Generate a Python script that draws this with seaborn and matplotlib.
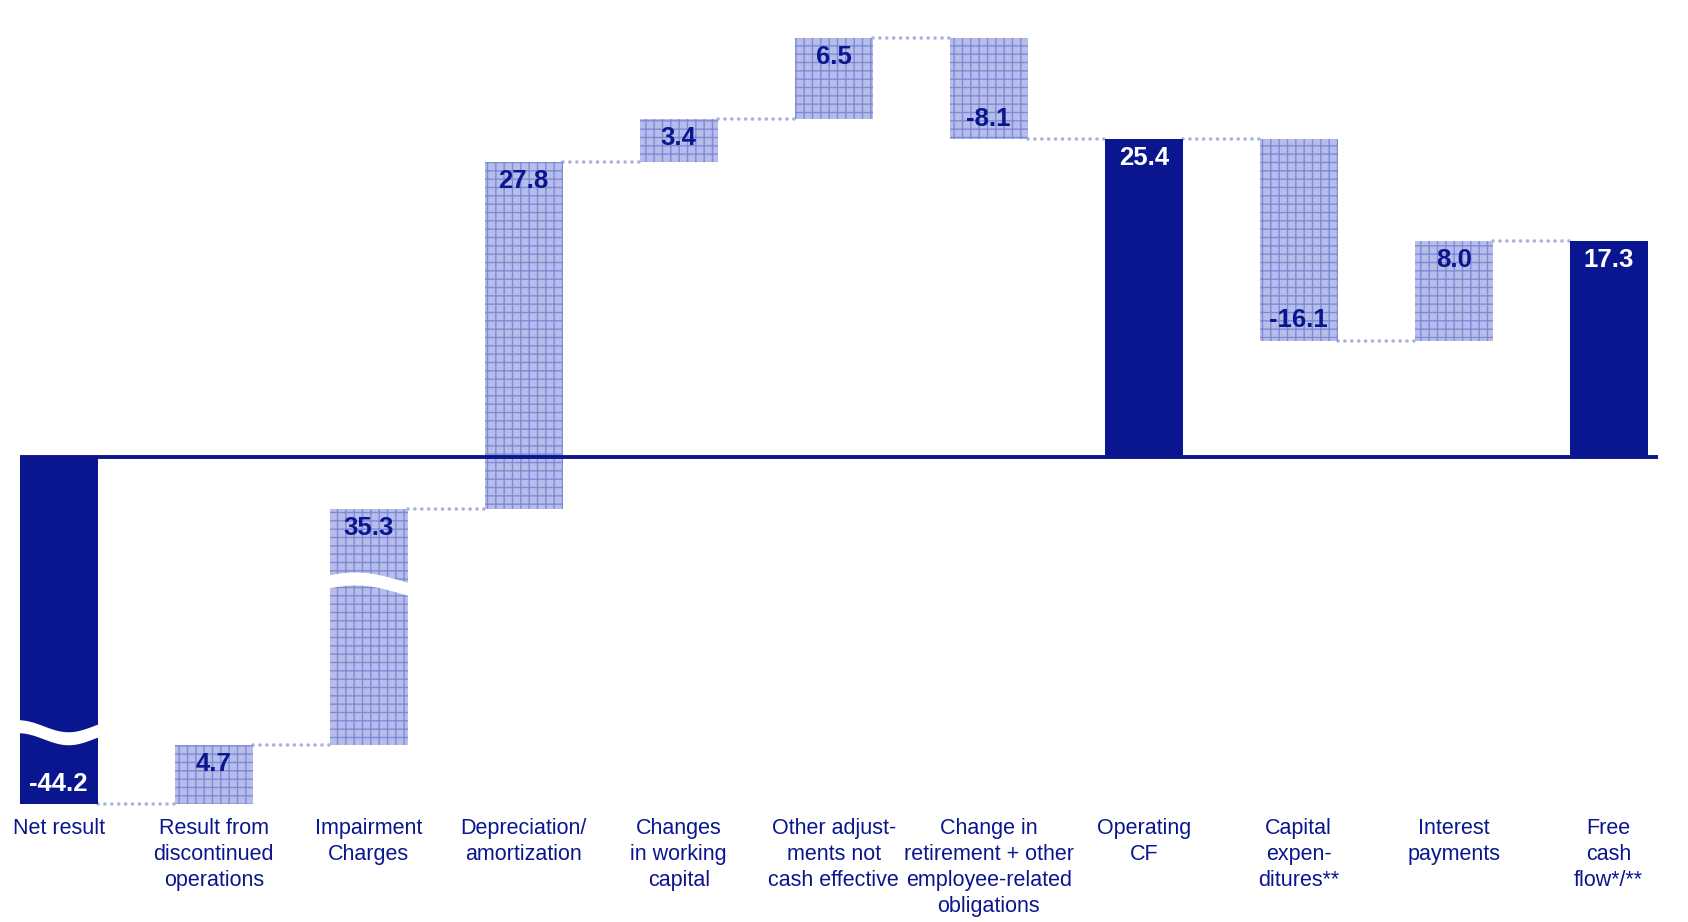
import numpy as np
import pandas as pd
import matplotlib
matplotlib.use("Agg")
import matplotlib.pyplot as plt
import matplotlib.transforms as mtransforms
import seaborn as sns

# ---------------- data ----------------
categories = [
    "Net result",
    "Result from\ndiscontinued\noperations",
    "Impairment\nCharges",
    "Depreciation/\namortization",
    "Changes\nin working\ncapital",
    "Other adjust-\nments not\ncash effective",
    "Change in\nretirement + other\nemployee-related\nobligations",
    "Operating\nCF",
    "Capital\nexpen-\nditures**",
    "Interest\npayments",
    "Free\ncash\nflow*/**",
]
values = [-44.2, 4.7, 35.3, 27.8, 3.4, 6.5, -8.1, 25.4, -16.1, 8.0, 17.3]
is_total = [True, False, False, False, False, False, False, True, False, False, True]
value_labels = ["-44.2", "4.7", "35.3", "27.8", "3.4", "6.5", "-8.1", "25.4", "-16.1", "8.0", "17.3"]
broken_bars = ["Net result", "Impairment\nCharges"]

# ---------------- style ----------------
NAVY = "#0a168f"
HATCH_FACE = "#b7bdea"
HATCH_LINE = "#7f8ad5"
DOT = "#aab1e0"

sns.set_style("white")
plt.rcParams["font.family"] = ["Liberation Sans", "DejaVu Sans"]
plt.rcParams["hatch.linewidth"] = 1.0

# waterfall geometry from the values
bottoms, heights, levels = [], [], []
running = 0.0
for v, tot in zip(values, is_total):
    if tot:
        bottoms.append(0.0)
        heights.append(v)
        running = v
    else:
        bottoms.append(running)
        heights.append(v)
        running = running + v
    levels.append(running)

df = pd.DataFrame({"category": categories, "height": heights})

fig = plt.figure(figsize=(16.88, 9.22), dpi=100)
ax = fig.add_axes([0.0, 1 - 804 / 922, 1.0, 804 / 922])

BAR_W = 0.503
sns.barplot(data=df, x="category", y="height", order=categories, bottom=bottoms,
            color=NAVY, width=BAR_W, errorbar=None, saturation=1, ax=ax, zorder=2)

for p, tot in zip(ax.patches, is_total):
    if tot:
        p.set_facecolor(NAVY)
        p.set_edgecolor(NAVY)
        p.set_linewidth(0)
    else:
        p.set_facecolor(HATCH_FACE)
        p.set_edgecolor(HATCH_LINE)
        p.set_hatch("++")
        p.set_linewidth(0)

# broken (compressed) value axis: the section between BRK_LO and BRK_HI is squeezed
BRK_HI, BRK_LO, SQUEEZE = -8.0, -38.0, 0.452
_xp = np.array([-1e6, BRK_LO, BRK_HI, 1e6])
_lo_m = BRK_HI + (BRK_LO - BRK_HI) * SQUEEZE
_fp = np.array([_lo_m - (BRK_LO + 1e6), _lo_m, BRK_HI, 1e6])


def fwd(v):
    return np.interp(v, _xp, _fp)


def inv(v):
    return np.interp(v, _fp, _xp)


PX_PER_UNIT = 12.5
ax.set_yscale("function", functions=(fwd, inv))
ax.set_ylim(-44.2, 457 / PX_PER_UNIT)
ax.set_xlim(-58.7 / 155, (1688 - 58.7) / 155)

# zero line
ax.plot([-BAR_W / 2, 10.32], [0, 0], color=NAVY, lw=2.8, zorder=3, solid_capstyle="butt")

# dotted connectors
for i in range(len(values) - 1):
    ax.plot([i + BAR_W / 2, i + 1 - BAR_W / 2], [levels[i], levels[i]], color=DOT,
            lw=2.6, linestyle=(0, (0.01, 1.9)), dash_capstyle="round", zorder=1,
            clip_on=False)

# wave break marks
hw = BAR_W * 155 / 100 / 2 + 0.01
t = np.linspace(0, 1, 80)
xs = -hw + 2 * hw * t
wave_specs = {
    "Net result": (-38.5, 0.06 * np.cos(2 * np.pi * 0.8 * t)),
    "Impairment\nCharges": (-13.0, 0.07 * np.sin(np.pi * (0.15 + 0.95 * t)) - 0.02 * t),
}
th = 0.13
for cat in broken_bars:
    i = categories.index(cat)
    anchor, yc = wave_specs[cat]
    trans = fig.dpi_scale_trans + mtransforms.ScaledTranslation(i, anchor, ax.transData)
    px = np.concatenate([xs, xs[::-1]])
    py = np.concatenate([yc + th / 2, (yc - th / 2)[::-1]])
    ax.fill(px, py, color="white", transform=trans, zorder=4, lw=0)

# value labels
for i, (b, h, lab, tot) in enumerate(zip(bottoms, heights, value_labels, is_total)):
    col = "white" if tot else NAVY
    if h >= 0:
        ax.annotate(lab, (i, b + h), xytext=(0, -5), textcoords="offset points",
                    ha="center", va="top", fontsize=18.5, fontweight="bold", color=col, zorder=5)
    else:
        ax.annotate(lab, (i, b + h), xytext=(0, 6), textcoords="offset points",
                    ha="center", va="bottom", fontsize=18.5, fontweight="bold", color=col, zorder=5)

ax.set_xlabel("")
ax.set_ylabel("")
ax.set_yticks([])
ax.set_xticks(range(len(categories)))
ax.set_xticklabels(categories, fontsize=15.5, color=NAVY, linespacing=1.32)
ax.tick_params(axis="x", length=0, pad=10)
ax.yaxis.set_minor_locator(matplotlib.ticker.NullLocator())
for s in ax.spines.values():
    s.set_visible(False)
ax.set_facecolor("white")

fig.savefig("out.png", dpi=100, facecolor="white")
